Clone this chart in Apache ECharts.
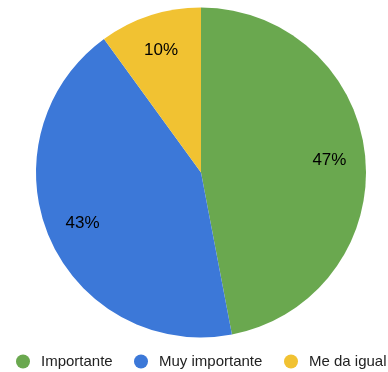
<!DOCTYPE html>
<html>
<head>
<meta charset="utf-8">
<script src="https://cdn.jsdelivr.net/npm/echarts@6/dist/echarts.min.js"></script>
<style>
  html, body { margin: 0; padding: 0; background: #fff; }
  #chart { width: 388px; height: 372px; }
</style>
</head>
<body>
<div id="chart"></div>
<script>
// Answer categories and their shares (percent)
const categories = ['Importante', 'Muy importante', 'Me da igual'];
const values = [47, 43, 10];
const colors = ['#6aa84f', '#3c78d8', '#f1c232'];

const data = categories.map((name, i) => ({ name: name, value: values[i] }));

// one legend entry per category, laid out along the bottom row
const legendLeft = [16, 134, 284];
const legends = categories.map((name, i) => ({
  data: [name],
  icon: 'circle',
  itemWidth: 26,
  itemHeight: 14,
  left: legendLeft[i],
  top: 354,
  padding: 0,
  textStyle: { fontFamily: 'Arial', fontSize: 15, color: '#222' }
}));

const chart = echarts.init(document.getElementById('chart'), null, { renderer: 'canvas' });

chart.setOption({
  animation: false,
  color: colors,
  legend: legends,
  series: [
    {
      // filled slices
      type: 'pie',
      center: [201, 172.5],
      radius: [0, 165],
      startAngle: 90,
      clockwise: true,
      label: { show: false },
      labelLine: { show: false },
      itemStyle: { borderWidth: 0 },
      data: data
    },
    {
      // transparent ring that places the percentage labels
      type: 'pie',
      center: [201, 172.5],
      radius: [87, 165],
      startAngle: 90,
      clockwise: true,
      silent: true,
      legendHoverLink: false,
      itemStyle: { color: 'rgba(0,0,0,0)', borderWidth: 0 },
      label: {
        show: true,
        position: 'inside',
        formatter: '{d}%',
        fontFamily: 'Arial',
        fontSize: 17,
        color: '#000'
      },
      labelLine: { show: false },
      data: data
    }
  ]
});
</script>
</body>
</html>
